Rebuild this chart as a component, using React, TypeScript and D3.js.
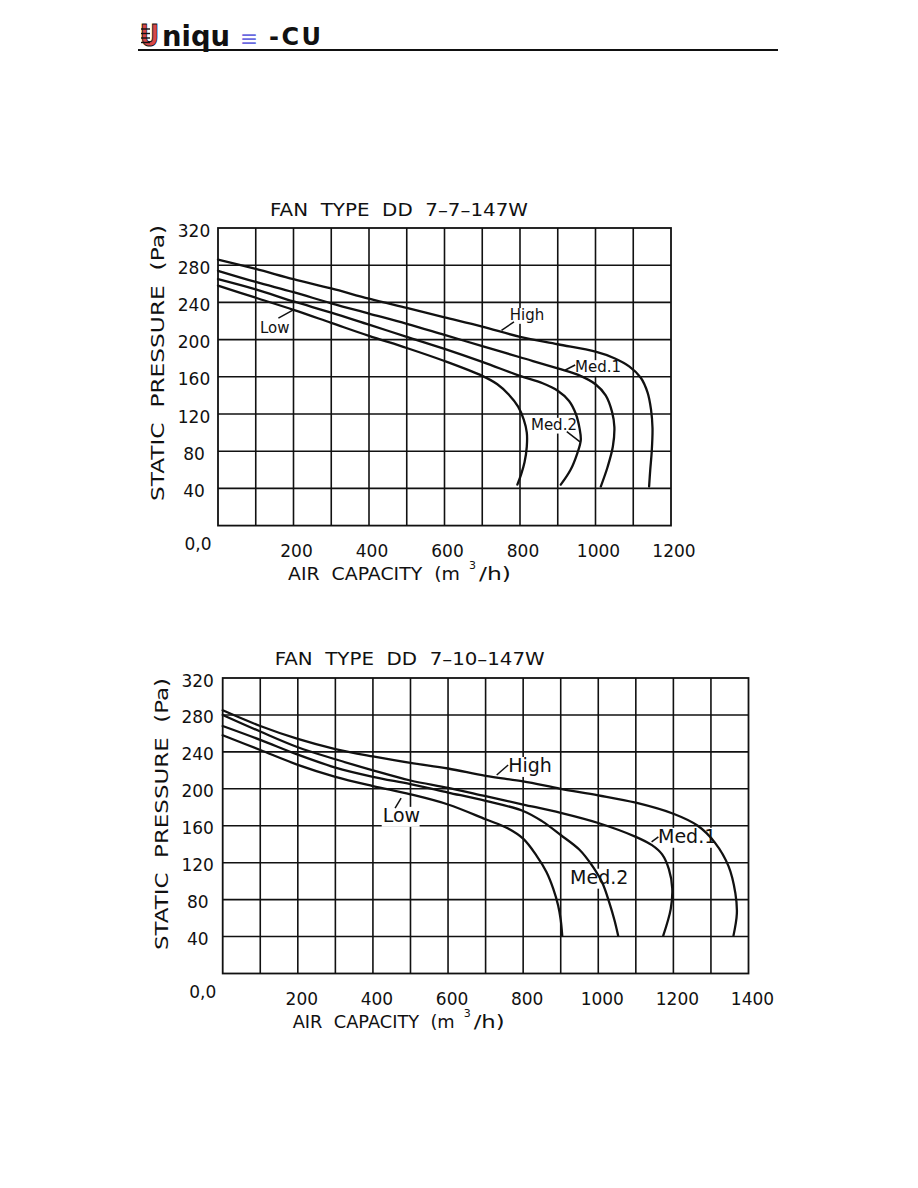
import React from "react";
import * as d3 from "d3";

type Pt = [number, number];

// ---------------- data ----------------
const pressureTicks = [40, 80, 120, 160, 200, 240, 280, 320];
const originLabel = "0,0";
const yAxisTitle = "STATIC  PRESSURE  (Pa)";
const xAxisTitleMain = "AIR  CAPACITY  (m";
const xAxisTitleSup = "3";
const xAxisTitleEnd = "/h)";
const seriesNames = ["High", "Med.1", "Med.2", "Low"];

const chart1Title = "FAN  TYPE  DD  7–7–147W";
const chart1XMax = 1200;
const chart1XTicks = [200, 400, 600, 800, 1000, 1200];

const dd77High: Pt[] = [[0, 286], [100, 276], [200, 265], [300, 255], [400, 244], [500, 234], [600, 224], [700, 214], [800, 203], [900, 195], [1000, 187], [1050, 180], [1090, 171], [1120, 159], [1138, 143], [1147, 125], [1151, 105], [1149, 80], [1145, 60], [1142, 42]];
const dd77Med1: Pt[] = [[0, 274], [100, 262], [200, 251], [300, 239], [400, 228], [500, 217], [600, 205], [700, 193], [800, 181], [900, 169], [960, 161], [1000, 152], [1027, 140], [1044, 122], [1050, 106], [1046, 85], [1032, 63], [1014, 42]];
const dd77Med2: Pt[] = [[0, 265], [100, 254], [200, 241], [300, 229], [400, 216], [500, 203], [600, 190], [700, 176], [800, 161], [860, 153], [900, 145], [930, 134], [948, 120], [958, 104], [961, 92], [952, 78], [934, 60], [908, 44]];
const dd77Low: Pt[] = [[0, 258], [100, 245], [200, 232], [300, 218], [400, 204], [500, 191], [600, 177], [700, 161], [740, 152], [770, 141], [795, 128], [810, 114], [818, 100], [818, 85], [812, 68], [803, 55], [793, 44]];

const chart2Title = "FAN  TYPE  DD  7–10–147W";
const chart2XMax = 1400;
const chart2XTicks = [200, 400, 600, 800, 1000, 1200, 1400];

const dd710High: Pt[] = [[0, 285], [100, 268], [200, 254], [300, 243], [400, 235], [500, 228], [600, 222], [700, 214], [800, 208], [900, 200], [1000, 193], [1100, 185], [1200, 173], [1265, 160], [1310, 142], [1347, 116], [1365, 87], [1369, 65], [1360, 41]];
const dd710Med1: Pt[] = [[0, 280], [100, 262], [200, 245], [300, 232], [400, 220], [500, 209], [600, 201], [700, 192], [800, 183], [900, 174], [1000, 163], [1100, 148], [1143, 139], [1170, 129], [1188, 113], [1197, 92], [1193, 70], [1173, 41]];
const dd710Med2: Pt[] = [[0, 268], [100, 253], [200, 237], [300, 223], [400, 213], [500, 205], [600, 196], [700, 187], [800, 176], [850, 165], [900, 150], [950, 134], [985, 116], [1011, 98], [1030, 76], [1043, 58], [1053, 41]];
const dd710Low: Pt[] = [[0, 258], [100, 242], [200, 226], [300, 213], [400, 203], [500, 194], [600, 183], [700, 167], [760, 157], [800, 146], [835, 128], [862, 110], [880, 92], [893, 74], [900, 58], [904, 41]];

// ---------------- layout ----------------
interface LabelSpec { name: string; at: Pt; pointer?: [Pt, Pt] }
interface Layout {
  left: number; top: number; width: number; height: number;
  titleDx: number; titleDy: number; titleLen: number;
  yTitleDx: number; yTitleCy: number; yTitleLen: number;
  yTickDx: number; xTickDx: number;
  xtDx: number; xtLen: number; supDx: number; endDx: number; endLen: number;
  labelFont: number;
}
interface ChartSpec { title: string; xMax: number; xTicks: number[]; series: Pt[][]; labels: LabelSpec[]; layout: Layout }

const chart1Labels: LabelSpec[] = [
  { name: seriesNames[0], at: [773, 221], pointer: [[784, 219], [751, 210]] },
  { name: seriesNames[1], at: [946, 165], pointer: [[946, 172.7], [919, 167]] },
  { name: seriesNames[2], at: [829, 103], pointer: [[924, 101], [959, 90]] },
  { name: seriesNames[3], at: [111, 206.6], pointer: [[160, 223], [202, 232.5]] },
];
const chart2Labels: LabelSpec[] = [
  { name: seriesNames[0], at: [760, 218], pointer: [[760, 225.8], [729.6, 215]] },
  { name: seriesNames[1], at: [1159, 141.3], pointer: [[1160, 148], [1142, 142.5]] },
  { name: seriesNames[2], at: [925, 97] },
  { name: seriesNames[3], at: [426, 164], pointer: [[459, 179], [475, 190]] },
];

const charts: ChartSpec[] = [
  {
    title: chart1Title, xMax: chart1XMax, xTicks: chart1XTicks,
    series: [dd77High, dd77Med1, dd77Med2, dd77Low], labels: chart1Labels,
    layout: {
      left: 218, top: 228, width: 453, height: 297.6,
      titleDx: 52, titleDy: -12, titleLen: 258,
      yTitleDx: -60, yTitleCy: 135, yTitleLen: 276,
      yTickDx: -24, xTickDx: 3,
      xtDx: 70, xtLen: 172, supDx: 251, endDx: 261, endLen: 32,
      labelFont: 15,
    },
  },
  {
    title: chart2Title, xMax: chart2XMax, xTicks: chart2XTicks,
    series: [dd710High, dd710Med1, dd710Med2, dd710Low], labels: chart2Labels,
    layout: {
      left: 222.7, top: 678, width: 525.8, height: 295.5,
      titleDx: 52, titleDy: -13, titleLen: 270,
      yTitleDx: -61, yTitleCy: 136, yTitleLen: 272,
      yTickDx: -25, xTickDx: 4,
      xtDx: 70, xtLen: 162, supDx: 241, endDx: 251, endLen: 31,
      labelFont: 19,
    },
  },
];

const FONT = "'DejaVu Sans', Verdana, sans-serif";
const PRE: React.CSSProperties = { whiteSpace: "pre" };

function FanChart({ spec }: { spec: ChartSpec }) {
  const L = spec.layout;
  const bottom = L.top + L.height;
  const x = d3.scaleLinear().domain([0, spec.xMax]).range([L.left, L.left + L.width]);
  const y = d3.scaleLinear().domain([0, 320]).range([bottom, L.top]);
  const line = d3.line<Pt>().x(d => x(d[0])).y(d => y(d[1])).curve(d3.curveCatmullRom.alpha(0.5));
  const vLines = d3.range(100, spec.xMax, 100);
  const hLines = d3.range(40, 320, 40);
  const fs = L.labelFont;
  const yTitleX = L.left + L.yTitleDx;
  const yTitleY = L.top + L.yTitleCy;
  return (
    <g fontFamily={FONT} fill="#111">
      <text x={L.left + L.titleDx} y={L.top + L.titleDy} fontSize={17} style={PRE} textLength={L.titleLen} lengthAdjust="spacingAndGlyphs">{spec.title}</text>
      {vLines.map(v => (
        <line key={"v" + v} x1={x(v)} x2={x(v)} y1={L.top} y2={bottom} stroke="#111" strokeWidth={1.6} />
      ))}
      {hLines.map(v => (
        <line key={"h" + v} x1={L.left} x2={L.left + L.width} y1={y(v)} y2={y(v)} stroke="#111" strokeWidth={1.6} />
      ))}
      <rect x={L.left} y={L.top} width={L.width} height={L.height} fill="none" stroke="#111" strokeWidth={1.8} />
      {spec.labels.map(lb => {
        const w = fs * 0.63 * lb.name.length;
        return (
          <rect key={"bg" + lb.name} x={x(lb.at[0]) - 1} y={y(lb.at[1]) - fs * 0.8} width={w + 2} height={fs * 1.05} fill="#fff" />
        );
      })}
      {spec.series.map((s, i) => (
        <path key={"s" + i} d={line(s) || ""} fill="none" stroke="#111" strokeWidth={2.3} strokeLinejoin="round" strokeLinecap="round" />
      ))}
      {spec.labels.map(lb => (
        <g key={"lb" + lb.name}>
          {lb.pointer && (
            <line x1={x(lb.pointer[0][0])} y1={y(lb.pointer[0][1])} x2={x(lb.pointer[1][0])} y2={y(lb.pointer[1][1])} stroke="#111" strokeWidth={1.5} />
          )}
          <text x={x(lb.at[0])} y={y(lb.at[1])} fontSize={fs}>{lb.name}</text>
        </g>
      ))}
      {pressureTicks.map(v => (
        <text key={"yt" + v} x={L.left + L.yTickDx} y={y(v) + 8.5} fontSize={17} textAnchor="middle">{v}</text>
      ))}
      <text x={L.left - 20} y={bottom + 24} fontSize={17} textAnchor="middle">{originLabel}</text>
      {spec.xTicks.map(v => (
        <text key={"xt" + v} x={x(v) + L.xTickDx} y={bottom + 31} fontSize={17} textAnchor="middle">{v}</text>
      ))}
      <text transform={`translate(${yTitleX + 6},${yTitleY}) rotate(-90)`} fontSize={17} style={PRE} textAnchor="middle" textLength={L.yTitleLen} lengthAdjust="spacingAndGlyphs">{yAxisTitle}</text>
      <text x={L.left + L.xtDx} y={bottom + 54.5} fontSize={17} style={PRE}>
        <tspan textLength={L.xtLen} lengthAdjust="spacingAndGlyphs">{xAxisTitleMain}</tspan>
        <tspan x={L.left + L.supDx} dy={-11} fontSize={11}>{xAxisTitleSup}</tspan>
        <tspan x={L.left + L.endDx} dy={11} textLength={L.endLen} lengthAdjust="spacingAndGlyphs">{xAxisTitleEnd}</tspan>
      </text>
    </g>
  );
}

function Header() {
  const stripes = d3.range(0, 4);
  return (
    <g>
      <text x={140} y={46} fontFamily={FONT} fontWeight="bold" fontSize={30} fill="#d84848" stroke="#111" strokeWidth={1} textLength={19} lengthAdjust="spacingAndGlyphs">U</text>
      {stripes.map(i => (
        <line key={i} x1={141} x2={150} y1={29 + i * 4.5} y2={29 + i * 4.5} stroke="#111" strokeWidth={1.4} />
      ))}
      <text x={162} y={46} fontFamily={FONT} fontWeight="bold" fontSize={28} fill="#111" textLength={68} lengthAdjust="spacingAndGlyphs">niqu</text>
      <text x={240} y={46} fontFamily={FONT} fontSize={22} fill="#6a6ae0" textLength={18} lengthAdjust="spacingAndGlyphs">≡</text>
      <text x={269} y={45} fontFamily={FONT} fontWeight="bold" fontSize={24} fill="#111" textLength={52} lengthAdjust="spacing">-CU</text>
      <line x1={138} x2={778} y1={50} y2={50} stroke="#111" strokeWidth={2} />
    </g>
  );
}

export default function App() {
  return (
    <svg width={918} height={1188} viewBox="0 0 918 1188" style={{ position: "absolute", left: 0, top: 0, background: "#fff" }}>
      <rect x={0} y={0} width={918} height={1188} fill="#fff" />
      <Header />
      {charts.map((c, i) => <FanChart key={i} spec={c} />)}
    </svg>
  );
}
